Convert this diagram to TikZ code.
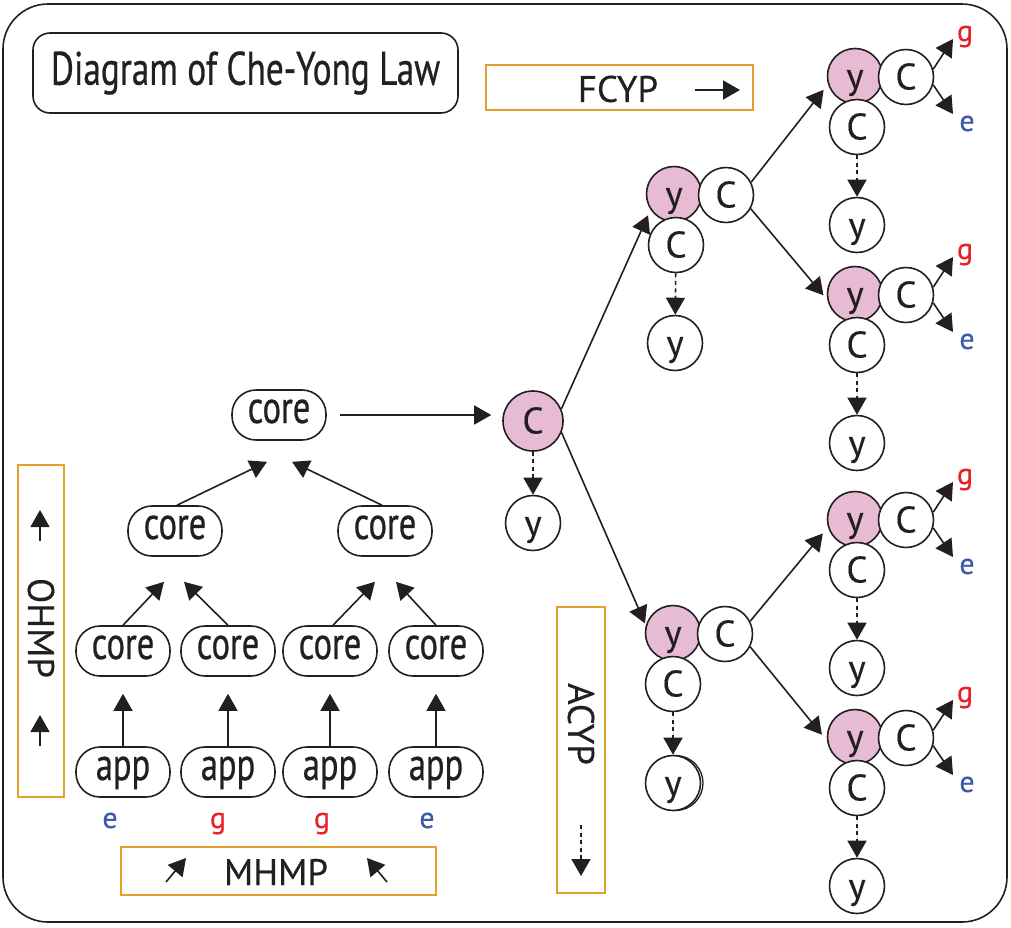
\documentclass[tikz,border=0pt]{standalone}
\usepackage{fontspec}
\setmainfont{PT Sans}[FakeBold=0.3]
\newfontfamily\condfont{PT Sans}[FakeStretch=0.75,FakeBold=0.5]
\usetikzlibrary{arrows.meta,calc}
\definecolor{ink}{RGB}{35,31,32}
\definecolor{boxorange}{RGB}{228,160,45}
\definecolor{nodepink}{RGB}{232,187,213}
\definecolor{gred}{RGB}{232,32,40}
\definecolor{eblue}{RGB}{62,90,170}
\begin{document}
\begin{tikzpicture}[x=1pt,y=-1pt,line width=1.6pt,draw=ink,text=ink,
  arr/.style={-{Triangle[length=17pt,width=19pt]},draw=ink,fill=ink},
  dotarr/.style={arr,dash pattern=on 4pt off 3.5pt},
  pill/.style={draw,fill=white,rounded corners=24pt,minimum width=94pt,minimum height=50pt,inner sep=0pt,
    text height=16pt,text depth=0pt,font=\condfont\fontsize{46}{52}\selectfont},
  circ/.style={draw,circle,fill=white,minimum size=55pt,inner sep=0pt,
    text height=25pt,text depth=0pt,font=\fontsize{37}{40}\selectfont},
  pinkc/.style={circ,fill=nodepink},
  obox/.style={draw=boxorange,line width=2pt,inner sep=0pt},
  lbl/.style={font=\fontsize{37}{40}\selectfont,inner sep=0pt},
  gl/.style={font=\fontsize{30}{34}\selectfont,text=gred,inner sep=0pt,anchor=base},
  el/.style={font=\fontsize{30}{34}\selectfont,text=eblue,inner sep=0pt,anchor=base}
]
\useasboundingbox (0,0) rectangle (1011,927);
\fill[white] (0,0) rectangle (1011,927);
% outer frame
\draw[rounded corners=45pt] (3,4) rectangle (1007,922);

% title
\node[draw,rounded corners=17pt,minimum width=425pt,minimum height=80pt,inner sep=0pt,
  font=\condfont\fontsize{47}{52}\selectfont] (title) at (245.5,73) {Diagram of Che-Yong Law};

% legend boxes
\node[obox,minimum width=267pt,minimum height=45pt] (fcyp) at (619.5,87.5) {};
\node[lbl] (fcyptxt) at (618,89) {FCYP};
\coordinate (fa1) at (695,90); \coordinate (fa2) at (740,90);
\draw[arr] (fa1) -- (fa2);

\node[obox,minimum width=46pt,minimum height=332pt] (ohmp) at (40.5,631) {};
\node[lbl,rotate=-90] (ohmptxt) at (41,628) {OHMP};
\coordinate (oa1) at (40,541); \coordinate (oa2) at (40,510);
\coordinate (ob1) at (40,746); \coordinate (ob2) at (40,715);
\draw[arr] (oa1) -- (oa2);
\draw[arr] (ob1) -- (ob2);

\node[obox,minimum width=315pt,minimum height=48pt] (mhmp) at (278.5,871) {};
\node[lbl] (mhmptxt) at (276,872) {MHMP};
\coordinate (ma1) at (166,882); \coordinate (ma2) at (186,858);
\coordinate (mb1) at (387,882); \coordinate (mb2) at (367,858);
\draw[arr] (ma1) -- (ma2);
\draw[arr] (mb1) -- (mb2);

\node[obox,minimum width=48pt,minimum height=286pt] (acyp) at (581,750) {};
\node[lbl,rotate=-90] (acyptxt) at (581,724) {ACYP};
\coordinate (aa1) at (581,825); \coordinate (aa2) at (581,876);
\draw[dotarr] (aa1) -- (aa2);

% core tree
\node[pill] (core1) at (279,415) {core};
\node[pill] (c2a) at (175,531) {core};
\node[pill] (c2b) at (385,531) {core};
\node[pill] (c3a) at (123,651) {core};
\node[pill] (c3b) at (228,651) {core};
\node[pill] (c3c) at (330,651) {core};
\node[pill] (c3d) at (436,651) {core};
\node[pill] (a1) at (123,772) {app};
\node[pill] (a2) at (228,772) {app};
\node[pill] (a3) at (330,772) {app};
\node[pill] (a4) at (436,772) {app};
\node[el] (l1) at (110,828) {e};
\node[gl] (l2) at (218,828) {g};
\node[gl] (l3) at (322,828) {g};
\node[el] (l4) at (427,828) {e};

\foreach \i/\j in {a1/c3a,a2/c3b,a3/c3c,a4/c3d}
  \draw[arr,shorten >=17pt] (\i.north) -- (\j.south);
\draw[arr] (c3a.north) -- ($(c2a.south)+(-11,25)$);
\draw[arr] (c3b.north) -- ($(c2a.south)+(9,25)$);
\draw[arr] ($(c3c.north)+(3,0)$) -- ($(c2b.south)+(-10,25)$);
\draw[arr] (c3d.north) -- ($(c2b.south)+(11,25)$);
\draw[arr] ($(c2a.north)+(2,0)$) -- ($(core1.south)+(-12,21)$);
\draw[arr] ($(c2b.north)+(-3,0)$) -- ($(core1.south)+(13,21)$);

% root
\node[pinkc,minimum size=60pt] (rootC) at (533,421) {C};
\node[circ] (rootY) at (533,523) {y};
\draw[arr,shorten <=13pt,shorten >=11pt] (core1.east) -- (core1.east -| rootC.west);
\draw[dotarr] (rootC) -- (rootY);

% artifact edge of lower y
\draw[line width=1.3pt] (675.5,783) circle[radius=27.5pt];

% middle clusters
\node[pinkc] (mY1) at (674,194) {y};
\node[circ] (mC1) at (726,195) {C};
\node[circ] (mC1b) at (676,245) {C};
\node[circ] (mY1d) at (675,343) {y};
\node[pinkc] (mY2) at (673,633) {y};
\node[circ] (mC2) at (725,634) {C};
\node[circ] (mC2b) at (673,684) {C};
\node[circ] (mY2d) at (673,783) {y};
\draw[dotarr] (mC1b) -- (mY1d);
\draw[dotarr] (mC2b) -- (mY2d);
\draw[arr,shorten >=6pt] (rootC.23) -- (mY1.214);
\draw[arr,shorten >=2pt] (rootC.-22) -- (mY2.164);

% right clusters
\foreach \k/\yy in {1/76,2/294,3/519,4/737}{
  \node[pinkc] (rY\k) at (855,\yy) {y};
  \node[circ] (rC\k) at (906,\yy+1) {C};
  \node[circ] (rCb\k) at (857,\yy+51) {C};
  \node[circ] (rYd\k) at (857,\yy+149) {y};
  \draw[dotarr] (rCb\k) -- (rYd\k);
  \coordinate (gt\k) at ($(rC\k)+(47,-38)$);
  \coordinate (et\k) at ($(rC\k)+(47,37)$);
  \draw[arr] (rC\k.16) -- (gt\k);
  \draw[arr] (rC\k.-16) -- (et\k);
  \node[gl] (g\k) at ($(rC\k)+(59,-36)$) {g};
  \node[el] (e\k) at ($(rC\k)+(61,54)$) {e};
}
\draw[arr,shorten >=7pt] (mC1.27) -- (rY1.197);
\draw[arr,shorten >=6pt] (mC1.-29) -- (rY2.192);
\draw[arr,shorten >=8pt] (mC2.27) -- (rY3.197);
\draw[arr,shorten >=8pt] (mC2.-27) -- (rY4.188);
\end{tikzpicture}
\end{document}
